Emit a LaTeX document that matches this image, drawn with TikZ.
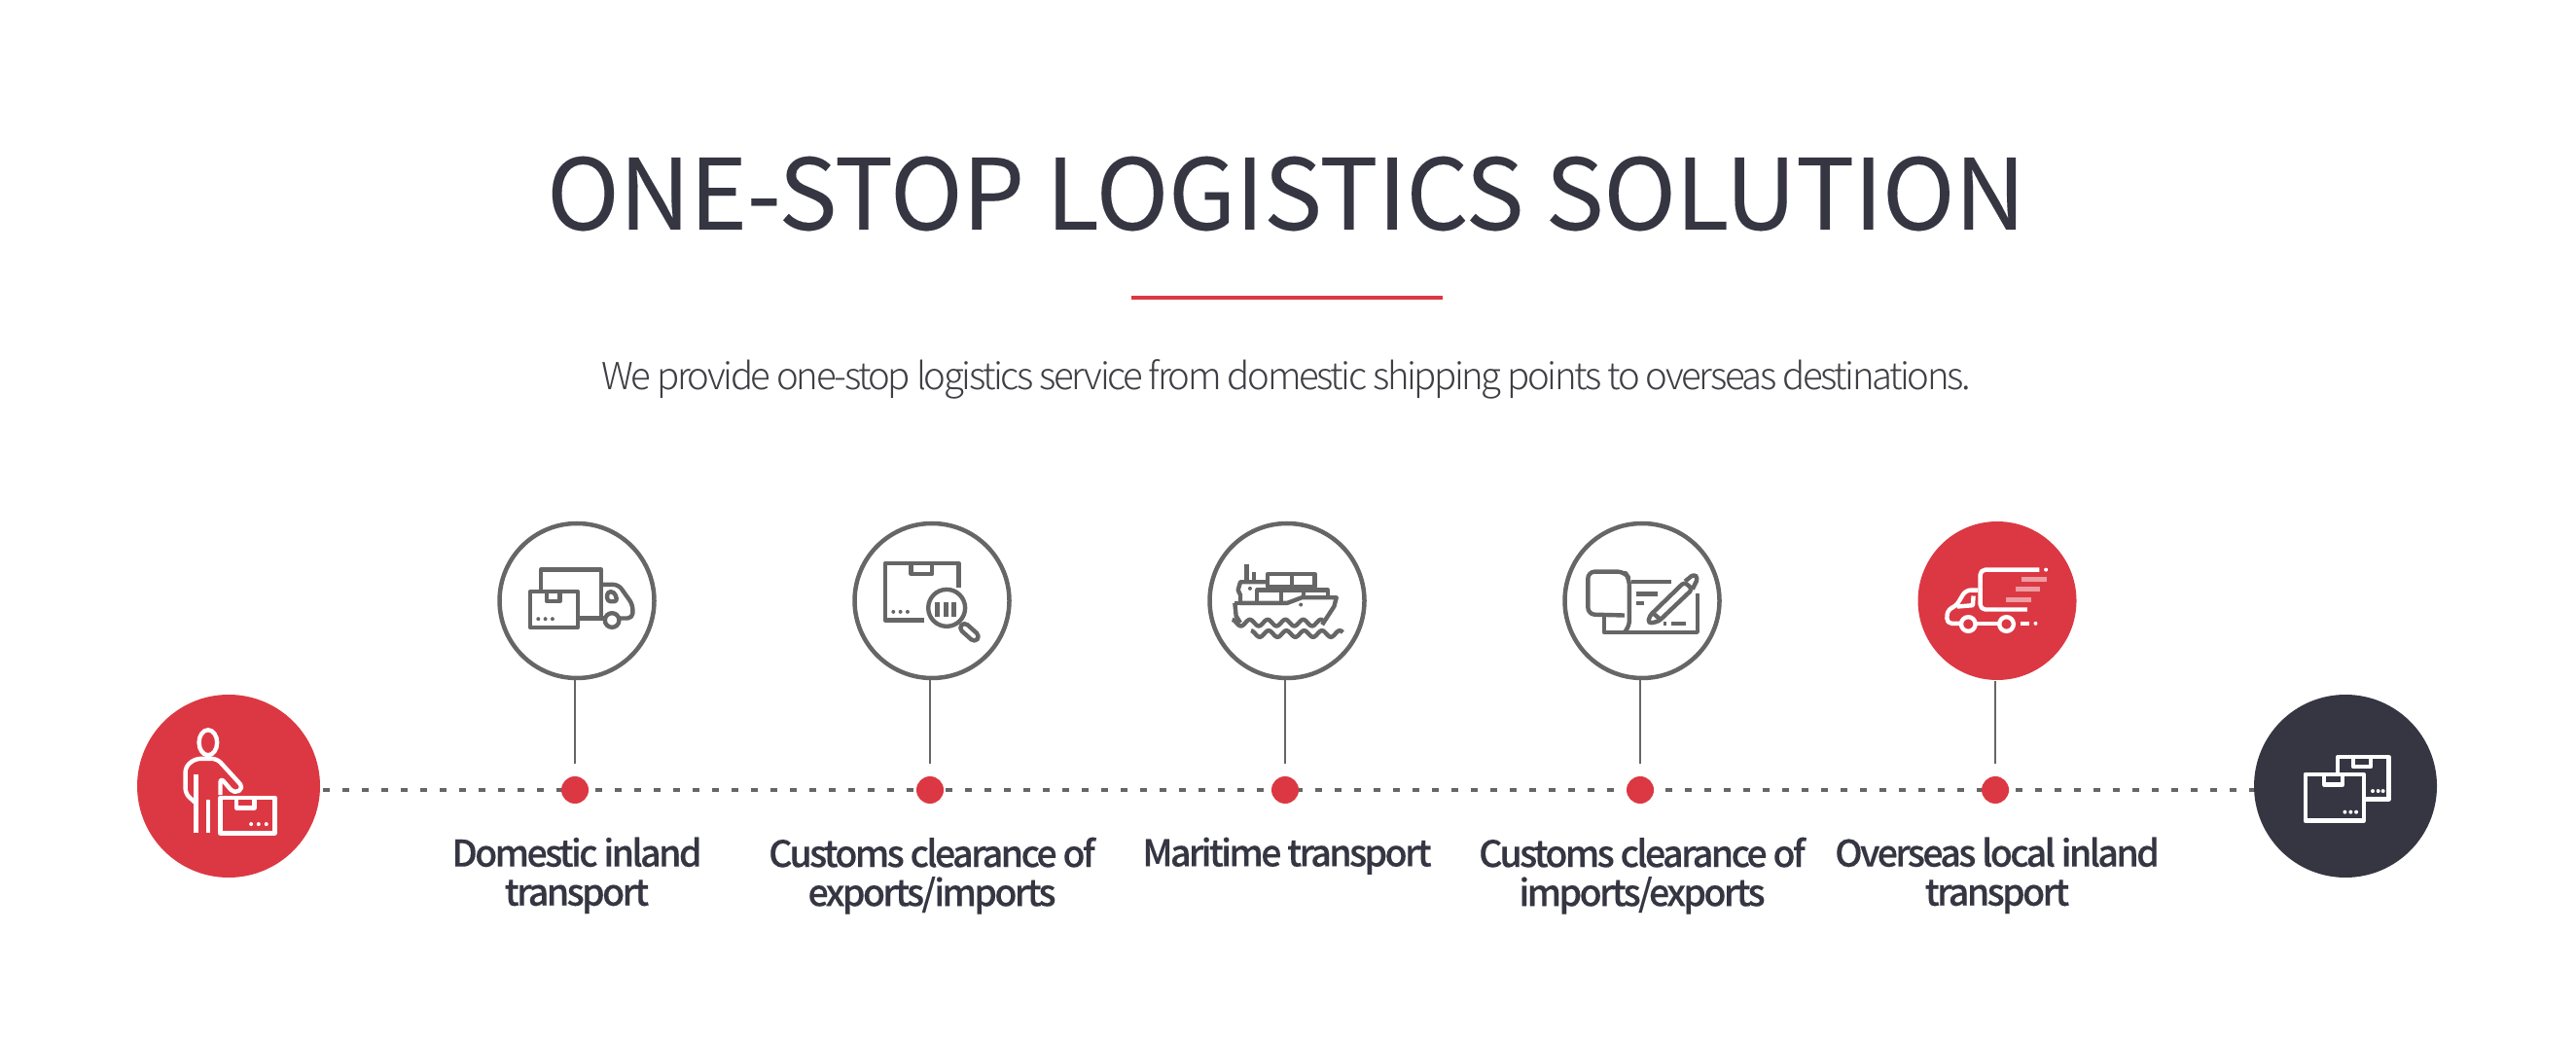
\documentclass[tikz,border=0pt]{standalone}
\usepackage{fontspec}
\usepackage{xcolor}
\usetikzlibrary{positioning}
\setmainfont{Noto Sans CJK KR}
\newfontfamily\titlefont{Noto Sans CJK KR}[LetterSpace=-0.5, FakeBold=0.15]
\newfontfamily\subfont{Noto Sans CJK KR Light}[LetterSpace=-6.3]
\newfontfamily\labelfont{Noto Sans CJK KR Medium}[LetterSpace=-7, FakeBold=0.25]
\definecolor{brandred}{HTML}{DC3843}
\definecolor{brandnavy}{HTML}{353642}
\definecolor{iconline}{HTML}{666666}
\definecolor{subgrey}{HTML}{3E3E44}
\tikzset{
    hub/.style={circle, fill=#1, minimum size=1.88cm, inner sep=0pt},
    station/.style={circle, draw=#1, line width=0.045cm, fill=white, minimum size=1.59cm, inner sep=0pt},
    stationred/.style={circle, fill=brandred, minimum size=1.63cm, inner sep=0pt},
    reddot/.style={circle, fill=brandred, minimum size=0.28cm, inner sep=0pt},
    stem/.style={line width=0.025cm, color=iconline, shorten >=0.12cm},
    rail/.style={line width=0.04cm, color=iconline, dash pattern=on 0.07cm off 0.13cm},
    steplabel/.style={font=\labelfont\fontsize{10.7}{11.4}\selectfont, text=brandnavy, align=center, anchor=north, inner sep=0pt},
    icon/.style={x=0.00333cm, y=-0.00333cm, line width=1.25pt, color=#1, line join=round},
    thin speed/.style={color=white!50!brandred}
}
\begin{document}
\begin{tikzpicture}
    \useasboundingbox (0,0) rectangle (26.48,10.68);

    \node[anchor=base, inner sep=0pt, text=brandnavy, font=\titlefont\fontsize{28.7}{30}\selectfont] (title) at (13.22,8.32) {ONE-STOP LOGISTICS SOLUTION};
    \coordinate (ruleleft) at (11.63,7.62);
    \coordinate (ruleright) at (14.83,7.62);
    \draw[line width=0.04cm, color=brandred] (ruleleft) -- (ruleright);
    \node[anchor=base, inner sep=0pt, text=subgrey, font=\subfont\fontsize{10.9}{12}\selectfont] (subtitle) at (13.22,6.67) {We provide one-stop logistics service from domestic shipping points to overseas destinations.};

    \node[hub=brandred] (hubstart) at (2.35,2.60) {};
    \node[hub=brandnavy] (hubend) at (24.11,2.60) {};
    \coordinate (railleft) at (3.32,2.56);
    \coordinate (railright) at (23.17,2.56);
    \draw[rail] (railleft) -- (railright);

    \node[station=iconline] (st1) at (5.93,4.505) {};
    \node[station=iconline] (st2) at (9.58,4.505) {};
    \node[station=iconline] (st3) at (13.23,4.505) {};
    \node[station=iconline] (st4) at (16.88,4.505) {};
    \node[stationred] (st5) at (20.53,4.505) {};

    \node[reddot] (dot1) at (5.91,2.56) {};
    \node[reddot] (dot2) at (9.56,2.56) {};
    \node[reddot] (dot3) at (13.21,2.56) {};
    \node[reddot] (dot4) at (16.86,2.56) {};
    \node[reddot] (dot5) at (20.51,2.56) {};

    \draw[stem] (dot1 |- st1.south) -- (dot1.north);
    \draw[stem] (dot2 |- st2.south) -- (dot2.north);
    \draw[stem] (dot3 |- st3.south) -- (dot3.north);
    \draw[stem] (dot4 |- st4.south) -- (dot4.north);
    \draw[stem] (dot5 |- st5.south) -- (dot5.north);

    \node[steplabel] (lab1) at (5.93,2.08) {Domestic inland\\transport};
    \node[steplabel] (lab2) at (9.58,2.08) {Customs clearance of\\exports/imports};
    \node[steplabel] (lab3) at (13.23,2.08) {Maritime transport};
    \node[steplabel] (lab4) at (16.88,2.08) {Customs clearance of\\imports/exports};
    \node[steplabel] (lab5) at (20.53,2.08) {Overseas local inland\\transport};

    \begin{scope}[shift={(1.60,3.38)}, icon=white]
        \draw (162,100) ellipse [x radius=28, y radius=39];
        \draw[rounded corners=1.5pt] (125,288) -- (92,258) -- (92,175) -- (122,150) -- (190,150) -- (272,240) -- (243,258) -- (200,208) -- (200,262);
        \draw (125,198) -- (125,380);
        \draw (162,278) -- (162,380);
        \draw (200,270) rectangle (368,380);
        \draw (250,270) -- (250,302) -- (305,302) -- (305,270);
        \fill (295,352) circle (6);
        \fill (318,352) circle (6);
        \fill (342,352) circle (6);
    \end{scope}

    \begin{scope}[shift={(5.30,5.03)}, icon=iconline]
        \draw (78,128) -- (78,62) -- (265,62) -- (265,212) -- (195,212);
        \draw (265,212) -- (275,212);
        \draw[rounded corners=1.5pt] (265,108) -- (318,108) -- (362,170) -- (362,212) -- (322,212);
        \draw (298,218) circle (22);
        \draw[rounded corners=1pt] (283,130) -- (305,130) -- (315,160) -- (283,160) -- cycle;
        \draw (45,130) rectangle (192,240);
        \draw (97,130) -- (97,160) -- (137,160) -- (137,130);
        \fill (70,214) circle (6);
        \fill (92,214) circle (6);
        \fill (114,214) circle (6);
    \end{scope}

    \begin{scope}[shift={(8.95,5.03)}, icon=iconline]
        \draw (272,118) -- (272,42) -- (45,42) -- (45,218) -- (165,218);
        \draw (125,42) -- (125,75) -- (190,75) -- (190,42);
        \fill (70,192) circle (6);
        \fill (92,192) circle (6);
        \fill (114,192) circle (6);
        \draw (235,180) circle (57);
        \fill (198,162) rectangle (214,206);
        \fill (224,162) rectangle (240,206);
        \fill (249,162) rectangle (265,206);
        \draw[rotate around={-42:(305,255)}, rounded corners=1.3pt] (272,242) rectangle (338,268);
    \end{scope}

    \begin{scope}[shift={(12.60,5.03)}, icon=iconline]
        \draw (65,45) -- (65,100);
        \draw (87,70) -- (87,100);
        \draw (130,100) -- (45,100) -- (38,125) -- (45,140) -- (45,165);
        \draw (130,75) rectangle (205,115);
        \draw (205,75) rectangle (275,115);
        \draw (97,125) rectangle (172,165);
        \draw (172,125) -- (240,125) -- (240,148);
        \draw (240,125) rectangle (315,148);
        \draw (45,165) -- (190,165) -- (235,148) -- (342,148) -- (335,175) -- (298,232);
        \draw (28,165) -- (32,205) -- (45,226);
        \draw (28,165) -- (45,165);
        \fill (75,120) circle (6);
        \fill (232,170) circle (6);
        \draw[smooth] plot[domain=20:300, samples=70] (\x,{226+10*cos(6.55*(\x-47))});
        \draw[smooth] plot[domain=78:362, samples=70] (\x,{260+10*cos(6.55*(\x-105))});
    \end{scope}

    \begin{scope}[shift={(16.25,5.03)}, icon=iconline]
        \draw[rounded corners=2pt] (135,203) -- (22,200) -- (22,68) -- (135,68) -- (150,90) -- (150,240) -- (135,255);
        \draw (72,205) -- (72,255) -- (360,255) -- (360,135);
        \draw (155,100) -- (280,100);
        \draw (170,137) -- (238,137);
        \draw (170,165) -- (195,165);
        \draw (255,228) -- (265,228);
        \draw (280,228) -- (325,228);
        \draw[rounded corners=1pt] (208,228) -- (212,205) -- (320,100) -- (345,122) -- (240,222) -- cycle;
        \draw[rounded corners=1pt] (322,98) -- (350,75) -- (362,88) -- (345,122);
        \draw (222,195) -- (245,215);
    \end{scope}

    \begin{scope}[shift={(19.90,5.03)}, icon=white]
        \draw[rounded corners=1.5pt] (320,62) -- (137,62) -- (137,185) -- (282,185);
        \fill (340,62) circle (6);
        \draw[thin speed] (265,92) -- (342,92);
        \draw[thin speed] (247,122) -- (322,122);
        \draw[thin speed] (217,155) -- (295,155);
        \draw[rounded corners=1.5pt] (130,125) -- (92,125) -- (62,175) -- (36,185) -- (33,228) -- (78,228);
        \draw (122,228) -- (195,228);
        \draw (100,230) circle (22);
        \draw (218,230) circle (22);
        \draw (116,143) -- (114,172) -- (65,176);
        \draw (260,228) -- (290,228);
        \fill (308,228) circle (6);
    \end{scope}

    \begin{scope}[shift={(22.80,3.68)}, icon=white]
        \draw (370,285) -- (370,235) -- (528,235) -- (528,365) -- (452,365);
        \draw (418,235) -- (418,265) -- (472,265) -- (472,235);
        \fill (478,340) circle (6);
        \fill (495,340) circle (6);
        \fill (510,340) circle (6);
        \draw (270,288) rectangle (450,432);
        \draw (328,288) -- (328,320) -- (385,320) -- (385,288);
        \fill (392,405) circle (6);
        \fill (410,405) circle (6);
        \fill (427,405) circle (6);
    \end{scope}
\end{tikzpicture}
\end{document}
